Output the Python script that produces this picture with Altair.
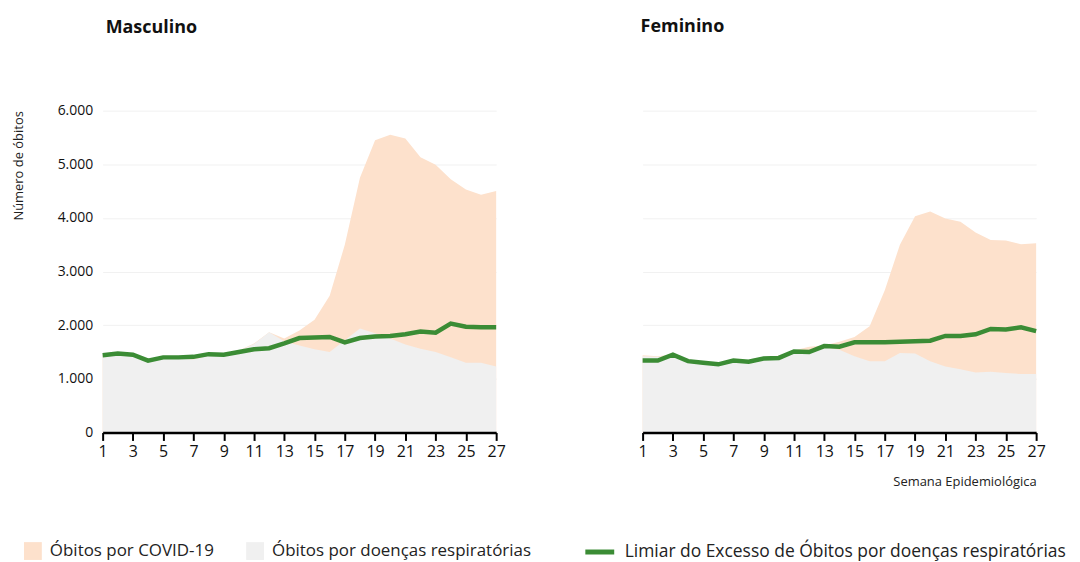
import altair as alt
import pandas as pd

weeks = list(range(1, 28))

male_total = [1440, 1470, 1450, 1345, 1400, 1405, 1410, 1470, 1460, 1530, 1660, 1870, 1750, 1900, 2100,
              2550, 3500, 4750, 5450, 5550, 5480, 5130, 4990, 4720, 4530, 4430, 4500]
male_resp = [1420, 1450, 1430, 1330, 1380, 1380, 1360, 1430, 1450, 1520, 1650, 1870, 1700, 1620, 1550,
             1500, 1720, 1940, 1850, 1750, 1640, 1560, 1500, 1400, 1300, 1300, 1230]
male_limiar = [1440, 1470, 1450, 1340, 1400, 1400, 1410, 1460, 1450, 1500, 1550, 1570, 1660, 1760, 1770,
               1780, 1680, 1760, 1790, 1800, 1830, 1880, 1860, 2030, 1970, 1960, 1960]

female_total = [1440, 1420, 1460, 1360, 1330, 1300, 1360, 1350, 1410, 1430, 1530, 1600, 1620, 1690, 1780,
                1980, 2650, 3500, 4030, 4120, 3990, 3930, 3730, 3590, 3580, 3510, 3530]
female_resp = [1420, 1410, 1420, 1340, 1310, 1280, 1330, 1330, 1390, 1410, 1510, 1520, 1590, 1540, 1420,
               1330, 1330, 1480, 1470, 1330, 1230, 1180, 1120, 1130, 1110, 1090, 1090]
female_limiar = [1340, 1340, 1450, 1330, 1300, 1270, 1340, 1320, 1380, 1390, 1510, 1500, 1610, 1600, 1680,
                 1680, 1680, 1690, 1700, 1710, 1800, 1800, 1830, 1930, 1920, 1960, 1890]

x_ticks = list(range(1, 28, 2))
y_ticks = [0, 1000, 2000, 3000, 4000, 5000, 6000]

SERIES_COVID = "Óbitos por COVID-19"
SERIES_RESP = "Óbitos por doenças respiratórias"
SERIES_LIM = "Limiar do Excesso de Óbitos por doenças respiratórias"

FONT = "Open Sans"
ORANGE = "#fde1cc"
GRAY = "#f0f0f0"
GREEN = "#3b8c35"

fill_scale = alt.Scale(domain=[SERIES_COVID, SERIES_RESP], range=[ORANGE, GRAY])
stroke_scale = alt.Scale(domain=[SERIES_LIM], range=[GREEN])

fill_legend = alt.Legend(
    title=None, orient="none", direction="horizontal", legendX=-79, legendY=433,
    symbolType="square", symbolSize=320, symbolStrokeWidth=0, labelFontSize=17,
    labelFont=FONT, labelColor="#222222", columnPadding=32, labelOffset=8, labelLimit=400,
)
stroke_legend = alt.Legend(
    title=None, orient="none", direction="horizontal", legendX=482, legendY=426,
    symbolType="stroke", symbolSize=840, symbolStrokeWidth=5, labelFontSize=17.5,
    labelFont=FONT, labelColor="#222222", labelOffset=8, labelLimit=600,
)


def panel(total, resp, limiar, title, show_y, x_title, title_offset, title_dx):
    df = pd.DataFrame({"semana": weeks, "total": total, "resp": resp, "limiar": limiar})
    base = alt.Chart(df)
    x_axis = alt.Axis(
        values=x_ticks, grid=False, domainColor="#000000", domainWidth=2.5, tickColor="#000000",
        tickWidth=2, tickSize=8, labelFontSize=16, labelFont=FONT, labelColor="#111111",
        labelPadding=3, labelFlush=False, zindex=2,
        title=x_title if x_title else None, titleFont=FONT, titleFontSize=13,
        titleFontWeight="normal", titleColor="#222222", titleAnchor="end", titlePadding=16,
    )
    if show_y:
        y_axis = alt.Axis(
            values=y_ticks, grid=True, gridColor="#f1f1f1", gridWidth=1,
            domain=False, ticks=False,
            labelExpr="replace(format(datum.value, ','), ',', '.')", labelFontSize=14,
            labelFont=FONT, labelColor="#111111", labelPadding=10,
            title="Número de óbitos", titleFont=FONT, titleFontSize=13, titleFontWeight="normal",
            titleColor="#222222", titleAnchor="end", titlePadding=32,
        )
    else:
        y_axis = alt.Axis(values=y_ticks, grid=True, gridColor="#f1f1f1", gridWidth=1,
                          domain=False, ticks=False, labels=False, title=None)
    xs = alt.Scale(domain=[1, 27], nice=False)
    ys = alt.Scale(domain=[0, 6000], nice=False)

    covid = base.transform_calculate(serie=f"'{SERIES_COVID}'").mark_area(opacity=1).encode(
        x=alt.X("semana:Q", scale=xs, axis=x_axis),
        y=alt.Y("total:Q", scale=ys, axis=y_axis, title="Número de óbitos" if show_y else None),
        fill=alt.Fill("serie:N", scale=fill_scale, legend=fill_legend),
    )
    resp_area = base.transform_calculate(serie=f"'{SERIES_RESP}'").mark_area(opacity=1).encode(
        x=alt.X("semana:Q", scale=xs, axis=x_axis),
        y=alt.Y("resp:Q", scale=ys, axis=y_axis, title="Número de óbitos" if show_y else None),
        fill=alt.Fill("serie:N", scale=fill_scale, legend=fill_legend),
    )
    line = base.transform_calculate(serie2=f"'{SERIES_LIM}'").mark_line(strokeWidth=4.5).encode(
        x=alt.X("semana:Q", scale=xs, axis=x_axis),
        y=alt.Y("limiar:Q", scale=ys, axis=y_axis, title="Número de óbitos" if show_y else None),
        stroke=alt.Stroke("serie2:N", scale=stroke_scale, legend=stroke_legend),
    )
    return alt.layer(covid, resp_area, line).properties(
        width=395, height=323,
        title=alt.TitleParams(title, anchor="start", frame="group", font=FONT, fontSize=18,
                              fontWeight="bold", color="#111111", offset=title_offset, dx=title_dx),
    )


left = panel(male_total, male_resp, male_limiar, "Masculino", True, None, 67, 3)
right = panel(female_total, female_resp, female_limiar, "Feminino", False, "Semana Epidemiológica", 75, -2)

chart = alt.hconcat(left, right, spacing=147, bounds="flush").resolve_scale(
    fill="shared", stroke="shared"
).properties(
    padding={"left": 4, "top": 9, "right": 5, "bottom": 5}
).configure(background="#ffffff").configure_view(stroke=None)

chart.save("out.html", embed_options={"renderer": "svg", "actions": False})
